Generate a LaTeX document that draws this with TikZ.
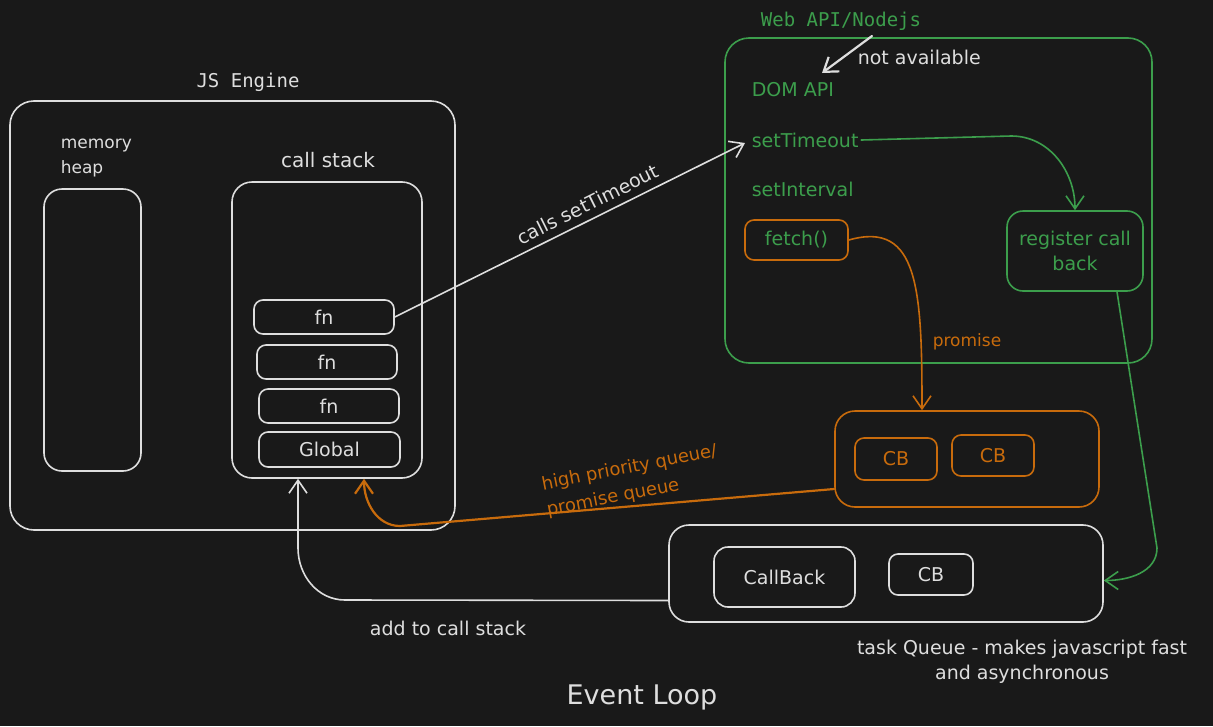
\documentclass[tikz,border=0pt]{standalone}
\usepackage{fontspec}
\setmainfont{DejaVu Sans}
\newfontfamily\codefont{DejaVu Sans Mono}
\usetikzlibrary{arrows.meta}
\definecolor{bg}{HTML}{191919}
\definecolor{ink}{HTML}{DEDEDE}
\definecolor{leaf}{HTML}{3C9E4C}
\definecolor{amber}{HTML}{C86B0C}
\tikzset{
  pane/.style={draw=#1,rounded corners=24pt},
  slot/.style={draw=#1,rounded corners=9pt,inner sep=0pt},
  slot/.default=ink
}

\begin{document}
\begin{tikzpicture}[x=1pt,y=-1pt,color=ink,line width=1.6pt,line cap=round,>={Straight Barb[length=13pt,width=18pt]},
  every node/.style={text=ink,inner sep=2pt,font=\fontsize{19}{25}\selectfont}]
  \fill[bg] (0,0) rectangle (1213,726);
  \node[pane=ink,minimum width=445pt,minimum height=429pt] (engine) at (232.5,315.5) {};
  \node[pane=ink,rounded corners=18pt,minimum width=97pt,minimum height=282pt] (heap) at (92.5,330) {};
  \node[pane=ink,rounded corners=20pt,minimum width=190pt,minimum height=296pt] (stack) at (327,330) {};
  \node[slot,minimum width=140pt,minimum height=34pt] (fnA) at (324,317) {fn};
  \node[slot,minimum width=140pt,minimum height=34pt] (fnB) at (327,362) {fn};
  \node[slot,minimum width=140pt,minimum height=34pt] (fnC) at (329,406) {fn};
  \node[slot,minimum width=141pt,minimum height=35pt] (glob) at (329.5,449.5) {Global};
  \node[font=\codefont\fontsize{19}{25}\selectfont] (engineT) at (248,82) {JS Engine};
  \node[font=\fontsize{17}{25}\selectfont,align=left,anchor=west] (heapT) at (58,158) {memory\\heap};
  \node[font=\fontsize{20}{25}\selectfont] (stackT) at (328,160) {call stack};

  \node[pane=leaf,minimum width=427pt,minimum height=325pt] (web) at (938.5,200.5) {};
  \node[text=leaf,font=\codefont\fontsize{19}{25}\selectfont] (webT) at (841,21) {Web API/Nodejs};
  \node[text=leaf,anchor=west] (domT) at (749,90) {DOM API};
  \node[text=leaf,anchor=west] (stoT) at (749,140) {setTimeout};
  \node[text=leaf,anchor=west] (sinT) at (749,189) {setInterval};
  \node[slot=amber,text=leaf,minimum width=103pt,minimum height=40pt] (fetch) at (796.5,240) {fetch()};
  \node[slot=leaf,text=leaf,rounded corners=16pt,align=center,minimum width=136pt,minimum height=80pt] (reg) at (1075,251) {register call\\back};
  \coordinate (naTail) at (872,36);
  \coordinate (naTip) at (822,73);
  \node[anchor=west] (naT) at (855,57) {not available};

  \node[pane=amber,rounded corners=20pt,minimum width=264pt,minimum height=96pt] (pq) at (967,459) {};
  \node[slot=amber,text=amber,minimum width=82pt,minimum height=42pt] (cbA) at (896,459) {CB};
  \node[slot=amber,text=amber,minimum width=82pt,minimum height=41pt] (cbB) at (993,455.5) {CB};
  \node[pane=ink,rounded corners=20pt,minimum width=434pt,minimum height=97pt] (tq) at (886,573.5) {};
  \node[slot,rounded corners=14pt,minimum width=141pt,minimum height=60pt] (callback) at (784.5,577) {CallBack};
  \node[slot,minimum width=84pt,minimum height=41pt] (cbC) at (931,574.5) {CB};

  \draw[->] (fnA.east) -- ([xshift=-4pt,yshift=-3pt]stoT.west) node[pos=.57,above=5pt,sloped] {calls setTimeout};
  \draw[->,line width=2.2pt] (naTail) -- (naTip);
  \draw[->,leaf] (stoT.east) -- ++(150,-4) to[out=0,in=90] (reg.north);
  \draw[->,amber] (fetch.east) .. controls +(70,-20) and +(0,-120) .. ([xshift=-45pt]pq.north);
  \node[text=amber,font=\fontsize{17}{22}\selectfont] (promT) at (967,342) {promise};
  \draw[->,amber,line width=2.2pt] ([yshift=-30pt]pq.west) -- (400,526) to[out=180,in=-90] ([xshift=37pt]stack.south);
  \node[text=amber,font=\fontsize{18}{26}\selectfont,align=left,rotate=11] (hpT) at (632,481) {high priority queue/\\promise queue};
  \draw[->,leaf] ([xshift=42pt]reg.south) -- (1157,548) to[out=-90,in=0] ([yshift=-7pt]tq.east);
  \draw[->] ([yshift=-27pt]tq.west) -- (345,600) to[out=180,in=-90] (298,548) -- ([xshift=-29pt]stack.south);
  \node (addT) at (448,628) {add to call stack};
  \node[align=center] (tqT) at (1022,662) {task Queue - makes javascript fast\\and asynchronous};
  \node[font=\fontsize{27}{32}\selectfont] (loopT) at (642,697) {Event Loop};
\end{tikzpicture}
\end{document}
